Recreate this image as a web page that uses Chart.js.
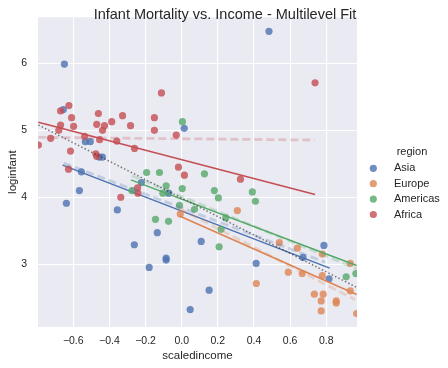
<!DOCTYPE html>
<html>
<head>
<meta charset="utf-8">
<script src="https://cdn.jsdelivr.net/npm/chart.js@4"></script>
<style>
  html, body { margin: 0; padding: 0; background: #fff; }
  #wrap { width: 448px; height: 368px; }
</style>
</head>
<body>
<div id="wrap"><canvas id="chart" width="448" height="368"></canvas></div>
<script>
const FONT = '"Liberation Sans", Arial, sans-serif';

const regions = ['Asia', 'Europe', 'Americas', 'Africa'];
const colors = ['76,114,176', '221,132,82', '85,168,104', '196,78,82'];

// scatter data, [scaledincome, loginfant]
const asia = [
    [-0.649, 5.99], [-0.655, 5.31], [0.483, 6.48], [0.014, 5.03], [-0.533, 4.83],
    [-0.506, 4.83], [-0.456, 4.60], [-0.439, 4.60], [-0.555, 4.38], [-0.566, 4.10],
    [-0.638, 3.91], [-0.356, 3.81], [-0.223, 4.22], [-0.072, 4.06], [-0.135, 3.47],
    [-0.262, 3.29], [-0.086, 3.09], [-0.086, 3.06], [-0.180, 2.95], [0.152, 2.61],
    [0.047, 2.32], [0.108, 3.34], [0.412, 3.01], [0.787, 3.28], [0.671, 3.10],
    [0.815, 2.78]
];
const europe = [
    [0.540, 3.32], [0.640, 3.24], [0.778, 3.15], [0.933, 3.01], [0.590, 2.88],
    [0.667, 2.86], [0.778, 2.83], [0.413, 2.71], [0.933, 2.60], [0.734, 2.55],
    [0.783, 2.55], [0.772, 2.45], [0.855, 2.45], [0.855, 2.42], [0.772, 2.30],
    [0.968, 2.26], [0.308, 3.80], [-0.008, 3.75]
];
const americas = [
    [0.004, 5.13], [-0.194, 4.37], [-0.123, 4.37], [0.126, 4.35], [-0.086, 4.17],
    [0.003, 4.13], [-0.275, 4.10], [-0.104, 4.06], [0.181, 4.10], [0.391, 4.08],
    [0.203, 3.99], [0.408, 3.94], [-0.012, 3.88], [0.071, 3.82], [0.244, 3.69],
    [-0.145, 3.67], [-0.073, 3.64], [0.218, 3.52], [0.207, 3.26], [0.910, 2.81],
    [0.964, 2.86]
];
const africa = [
    [-0.624, 5.37], [-0.670, 5.29], [-0.609, 5.19], [-0.461, 5.25], [-0.327, 5.22],
    [-0.151, 5.19], [-0.112, 5.56], [-0.670, 5.08], [-0.598, 5.06], [-0.470, 5.09],
    [-0.427, 5.07], [-0.387, 5.13], [-0.283, 5.07], [-0.151, 5.00], [-0.438, 5.00],
    [-0.680, 5.00], [-0.030, 4.93], [-0.725, 4.88], [-0.537, 4.91], [-0.454, 4.86],
    [-0.359, 4.84], [-0.793, 4.78], [-0.261, 4.73], [-0.615, 4.69], [-0.475, 4.65],
    [-0.470, 4.61], [-0.626, 4.42], [-0.018, 4.45], [0.015, 4.33], [-0.244, 4.14],
    [-0.242, 4.06], [-0.337, 4.00], [0.325, 4.27], [0.738, 5.71]
];

// fitted lines (end points)
const fitLines = [
    [[-0.659, 4.48], [0.819, 2.94]],
    [[-0.012, 3.72], [0.968, 2.545]],
    [[-0.281, 4.26], [0.968, 2.98]],
    [[-0.793, 5.12], [0.738, 4.04]]
];
// multilevel lines (dashed)
const mlLines = [
    [[-0.653, 4.51], [0.793, 3.03]],
    [[-0.012, 3.83], [0.958, 2.47]],
    [[-0.275, 4.32], [0.968, 2.93]],
    [[-0.793, 4.895], [0.736, 4.855]]
];
const overallLine = [[-0.793, 5.08], [0.97, 2.65]];

const xTicks = [-0.6, -0.4, -0.2, 0.0, 0.2, 0.4, 0.6, 0.8];
const yTicks = [3, 4, 5, 6];

function toXY(arr) {
    return arr.map(p => ({x: p[0], y: p[1]}));
}

const scatterData = [asia, europe, americas, africa];
const datasets = [];
regions.forEach((name, i) => {
    datasets.push({
        type: 'scatter',
        label: name,
        data: toXY(scatterData[i]),
        backgroundColor: `rgba(${colors[i]},0.8)`,
        borderWidth: 0,
        pointRadius: 3.6,
        order: 20 - i * 2
    });
    datasets.push({
        type: 'line',
        label: name + ' fit',
        data: toXY(fitLines[i]),
        borderColor: `rgb(${colors[i]})`,
        borderWidth: 1.5,
        pointRadius: 0,
        order: 19 - i * 2
    });
});
regions.forEach((name, i) => {
    datasets.push({
        type: 'line',
        label: name + ' multilevel',
        data: toXY(mlLines[i]),
        borderColor: `rgba(${colors[i]},0.25)`,
        borderWidth: 2.8,
        borderDash: [8, 4],
        pointRadius: 0,
        order: 5 - i
    });
});
datasets.push({
    type: 'line',
    label: 'overall',
    data: toXY(overallLine),
    borderColor: 'rgba(40,40,40,0.6)',
    borderWidth: 1.5,
    borderDash: [1.5, 2.2],
    pointRadius: 0,
    order: 0
});

function fmt(v) {
    return v.toFixed(1).replace('-', '\u2212');
}

const background = {
    id: 'background',
    beforeDraw(chart) {
        const {ctx, chartArea: a} = chart;
        ctx.save();
        ctx.fillStyle = '#EAEAF2';
        ctx.fillRect(a.left, a.top, a.right - a.left, a.bottom - a.top);
        ctx.restore();
    }
};

const extras = {
    id: 'extras',
    afterDraw(chart) {
        const ctx = chart.ctx;
        ctx.save();
        ctx.fillStyle = '#262626';
        ctx.font = '14.5px ' + FONT;
        ctx.textAlign = 'center';
        ctx.textBaseline = 'alphabetic';
        ctx.fillText('Infant Mortality vs. Income - Multilevel Fit', 225, 18.5);

        ctx.font = '11px ' + FONT;
        ctx.textBaseline = 'middle';
        ctx.fillText('region', 412, 152);
        ctx.textAlign = 'left';
        regions.forEach((name, i) => {
            const y = 168.3 + i * 15.4;
            ctx.fillStyle = `rgba(${colors[i]},0.8)`;
            ctx.beginPath();
            ctx.arc(373.3, y, 3.6, 0, Math.PI * 2);
            ctx.fill();
            ctx.fillStyle = '#262626';
            ctx.fillText(name, 394, y);
        });
        ctx.restore();
    }
};

new Chart(document.getElementById('chart'), {
    data: {datasets},
    options: {
        responsive: false,
        animation: false,
        layout: {padding: {top: 13, right: 91, left: 0, bottom: 0}},
        plugins: {legend: {display: false}, tooltip: {enabled: false}},
        scales: {
            x: {
                type: 'linear',
                min: -0.795,
                max: 0.97,
                afterBuildTicks: s => { s.ticks = xTicks.map(v => ({value: v})); },
                afterFit: s => { s.height = 41; },
                ticks: {
                    callback: v => fmt(v),
                    color: '#262626',
                    font: {family: FONT, size: 10.5},
                    padding: 8,
                    maxRotation: 0
                },
                grid: {color: '#ffffff', lineWidth: 1.1, drawTicks: false},
                border: {display: false},
                title: {
                    display: true,
                    text: 'scaledincome',
                    color: '#262626',
                    font: {family: FONT, size: 11.5},
                    padding: {top: 0, bottom: 5}
                }
            },
            y: {
                type: 'linear',
                min: 2.06,
                max: 6.69,
                afterBuildTicks: s => { s.ticks = yTicks.map(v => ({value: v})); },
                afterFit: s => { s.width = 38; },
                ticks: {
                    callback: v => String(v),
                    color: '#262626',
                    font: {family: FONT, size: 10.5},
                    padding: 11
                },
                grid: {color: '#ffffff', lineWidth: 1.1, drawTicks: false},
                border: {display: false},
                title: {
                    display: true,
                    text: 'loginfant',
                    color: '#262626',
                    font: {family: FONT, size: 11.5},
                    padding: {top: 6, bottom: 0}
                }
            }
        }
    },
    plugins: [background, extras]
});
</script>
</body>
</html>
